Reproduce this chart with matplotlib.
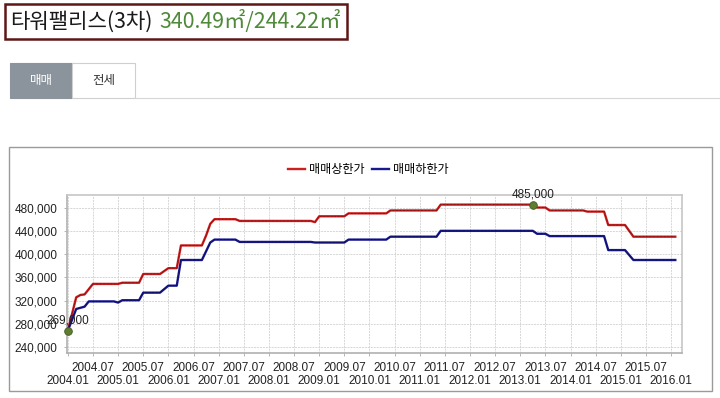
import matplotlib
matplotlib.use("Agg")
import matplotlib.pyplot as plt
from matplotlib.patches import Rectangle
from matplotlib.lines import Line2D

# ---------------- data (values in won) ----------------
upper_dates = ["2004.01", "2004.03", "2004.04", "2004.05", "2004.07", "2005.01", "2005.02",
               "2005.06", "2005.07", "2005.11", "2006.01", "2006.03", "2006.04", "2006.09",
               "2006.10", "2006.11", "2006.12", "2007.05", "2007.06", "2008.11", "2008.12",
               "2009.01", "2009.07", "2009.08", "2010.05", "2010.06", "2011.05", "2011.06",
               "2013.04", "2013.05", "2013.07", "2013.08", "2014.04", "2014.05", "2014.09",
               "2014.10", "2015.02", "2015.04", "2016.02"]
upper_values = [269000, 326000, 330000, 331000, 349000, 349000, 351000,
                351000, 366000, 366000, 376000, 376000, 415000, 415000,
                432000, 452000, 460000, 460000, 457000, 457000, 455000,
                465000, 465000, 470000, 470000, 475000, 475000, 485000,
                485000, 480000, 480000, 475000, 475000, 473000, 473000,
                450000, 450000, 430000, 430000]

lower_dates = ["2004.01", "2004.03", "2004.04", "2004.05", "2004.06", "2004.12", "2005.01",
               "2005.02", "2005.06", "2005.07", "2005.11", "2006.01", "2006.03", "2006.04",
               "2006.09", "2006.10", "2006.11", "2006.12", "2007.05", "2007.06", "2008.11",
               "2008.12", "2009.07", "2009.08", "2010.05", "2010.06", "2011.05", "2011.06",
               "2013.04", "2013.05", "2013.07", "2013.08", "2014.09", "2014.10", "2015.02",
               "2015.04", "2016.02"]
lower_values = [269000, 306000, 308000, 310000, 319000, 319000, 317000,
                321000, 321000, 334000, 334000, 346000, 346000, 390000,
                390000, 405000, 420000, 425000, 425000, 421000, 421000,
                420000, 420000, 425000, 425000, 430000, 430000, 440000,
                440000, 435000, 435000, 431000, 431000, 407000, 407000,
                390000, 390000]

series_names = ["매매상한가", "매매하한가"]
y_ticks = [240000, 280000, 320000, 360000, 400000, 440000, 480000]
x_major_labels = ["2004.01", "2005.01", "2006.01", "2007.01", "2008.01", "2009.01", "2010.01",
                  "2011.01", "2012.01", "2013.01", "2014.01", "2015.01", "2016.01"]
x_minor_labels = ["2004.07", "2005.07", "2006.07", "2007.07", "2008.07", "2009.07",
                  "2010.07", "2011.07", "2012.07", "2013.07", "2014.07", "2015.07"]
min_point = ("2004.01", 269000)
max_point = ("2013.04", 485000)

title_name = "타워팰리스(3차)"
title_area = "340.49㎡/244.22㎡"
tab_labels = ["매매", "전세"]


def month_index(s):
    y, m = s.split(".")
    return (int(y) - 2004) * 12 + (int(m) - 1)


# ---------------- figure ----------------
W, H = 720, 398
fig = plt.figure(figsize=(W / 100, H / 100), dpi=100)
fig.patch.set_facecolor("white")
KR = ["Noto Sans CJK KR", "DejaVu Sans"]
NUM = ["Liberation Sans", "DejaVu Sans"]


def fx(px):
    return px / W


def fy(py):
    return 1 - py / H


def frect(x0, y0, x1, y1, **kw):
    r = Rectangle((fx(x0), fy(y1)), fx(x1) - fx(x0), (y1 - y0) / H,
                  transform=fig.transFigure, **kw)
    fig.add_artist(r)
    return r


# title box
frect(5, 3.5, 347, 38.5, fill=False, edgecolor="#5e1616", linewidth=1.8)
t1 = fig.text(fx(10), fy(21.5), title_name, fontsize=15.2, family=KR,
              color="#1a1a1a", va="center", ha="left")
renderer = fig.canvas.get_renderer()
bb = t1.get_window_extent(renderer=renderer)
fig.text((bb.x1 + 7) / W, fy(21.5), title_area, fontsize=15.4, family=KR,
         color="#4f8a3a", va="center", ha="left")

# tabs
frect(10, 63, 72, 98, facecolor="#8b949c", edgecolor="#8b949c", linewidth=0.8)
frect(72, 63, 135, 98, facecolor="white", edgecolor="#cfcfcf", linewidth=0.8)
fig.text(fx(41), fy(80.5), tab_labels[0], fontsize=9, family=KR, color="white",
         ha="center", va="center")
fig.text(fx(103.5), fy(80.5), tab_labels[1], fontsize=9, family=KR, color="#333333",
         ha="center", va="center")
fig.add_artist(Line2D([fx(135), fx(720)], [fy(98), fy(98)], transform=fig.transFigure,
                      color="#d6d6d6", linewidth=0.8))

# chart frame
frect(9, 147, 712, 391, fill=False, edgecolor="#9a9a9a", linewidth=1.0)

# axes
ax = fig.add_axes([fx(67), fy(353), fx(682) - fx(67), (353 - 195) / H])
ux = [month_index(d) for d in upper_dates]
lx = [month_index(d) for d in lower_dates]
red, blue = "#cc1f1f", "#1a1a8f"
ax.plot(ux, upper_values, color=red, linewidth=1.7, zorder=3)
ax.plot(lx, lower_values, color=blue, linewidth=1.7, zorder=3)
ax.plot(ux, upper_values, color="#5a0000", linewidth=0.5, linestyle=(0, (1, 1)), zorder=4)
ax.plot(lx, lower_values, color="#000033", linewidth=0.5, linestyle=(0, (1, 1)), zorder=4)

# min / max markers
for (d, v) in (min_point, max_point):
    xi = month_index(d)
    ax.plot([xi], [v], marker="o", markersize=5.5, color="#5f7d30",
            markeredgecolor="#435a1f", markeredgewidth=0.6, zorder=5, clip_on=False)
    ax.annotate(f"{v:,}", (xi, v), xytext=(0, 7), textcoords="offset points",
                ha="center", va="center", fontsize=8.5, family=NUM, color="#222222",
                zorder=6, annotation_clip=False)

ax.set_xlim(-0.2, 146.6)
ax.set_ylim(230500, 501500)

ax.set_yticks(y_ticks)
ax.set_yticklabels([f"{v:,}" for v in y_ticks], fontsize=8.5, family=NUM, color="#222222")

ax.set_xticks([month_index(s) for s in x_major_labels])
ax.set_xticklabels(x_major_labels, fontsize=8.5, family=NUM, color="#222222")
ax.set_xticks([month_index(s) for s in x_minor_labels], minor=True)
ax.set_xticklabels(x_minor_labels, minor=True, fontsize=8.5, family=NUM, color="#222222")

ax.tick_params(axis="y", length=2.5, width=0.6, color="#aaaaaa", pad=4.5)
ax.tick_params(axis="x", which="major", length=2.5, width=0.6, color="#aaaaaa", pad=13.0)
ax.tick_params(axis="x", which="minor", length=2.5, width=0.6, color="#aaaaaa", pad=3.8)

ax.grid(True, which="both", axis="x", color="#d6d6d6", linewidth=0.7, linestyle=(0, (2, 1)))
ax.grid(True, which="major", axis="y", color="#d6d6d6", linewidth=0.7, linestyle=(0, (2, 1)))
ax.set_axisbelow(True)
for s in ax.spines.values():
    s.set_color("#c6c6c6")
    s.set_linewidth(1.2)
ax.spines["left"].set_color("#b0b0b0")
ax.spines["bottom"].set_color("#b0b0b0")

# legend
h1 = Line2D([], [], color=red, linewidth=1.7)
h2 = Line2D([], [], color=blue, linewidth=1.7)
fig.legend([h1, h2], series_names, loc="center", bbox_to_anchor=(fx(368.5), fy(170)),
           ncol=2, frameon=False, prop={"family": KR, "size": 8.7}, handlelength=1.4,
           handletextpad=0.35, columnspacing=0.6, borderpad=0.0)

fig.savefig("out.png", dpi=100)
